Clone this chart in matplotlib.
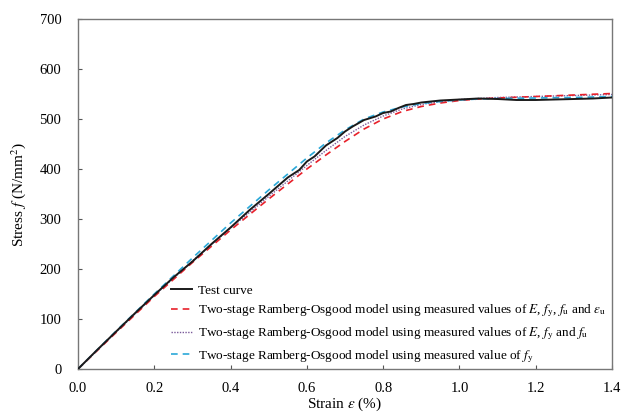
import matplotlib
matplotlib.use("Agg")
import matplotlib.pyplot as plt
from matplotlib.ticker import FormatStrFormatter

plt.rcParams['font.family'] = ['Liberation Serif', 'DejaVu Serif']
plt.rcParams['mathtext.fontset'] = 'stix'

# Test curve (strain %, stress N/mm^2)
test_x = [0.0, 0.05, 0.1, 0.15, 0.2, 0.25, 0.3, 0.35, 0.4, 0.45, 0.5, 0.55, 0.58, 0.6, 0.62, 0.65,
          0.68, 0.7, 0.72, 0.75, 0.78, 0.8, 0.82, 0.84, 0.86, 0.88, 0.9, 0.95, 1.0, 1.05, 1.1,
          1.15, 1.2, 1.25, 1.3, 1.35, 1.4]
test_y = [0, 38, 75, 112, 148, 183, 215, 250, 283, 318, 350, 383, 398, 415, 425, 447,
          462, 475, 485, 498, 505, 512, 515, 522, 528, 530, 533, 537, 539, 541, 540,
          538, 538, 539, 540, 541, 543]

# Two-stage R-O model using E, fy, fu and eps_u (red dashed)
red_x = [0.0, 0.1, 0.2, 0.3, 0.4, 0.5, 0.6, 0.65, 0.7, 0.75, 0.8, 0.85, 0.9, 0.95, 1.0,
         1.05, 1.1, 1.2, 1.3, 1.4]
red_y = [0, 73, 145, 213, 278, 340, 400, 428, 455, 480, 500, 515, 525, 532, 537,
         540, 542, 545, 548, 551]

# Two-stage R-O model using E, fy and fu (purple dotted)
pur_x = [0.0, 0.1, 0.2, 0.3, 0.4, 0.5, 0.6, 0.65, 0.7, 0.75, 0.8, 0.85, 0.9, 0.95, 1.0,
         1.05, 1.1, 1.2, 1.3, 1.4]
pur_y = [0, 74, 147, 216, 282, 345, 407, 437, 465, 488, 506, 520, 529, 535, 539,
         541, 543, 545, 547, 549]

# Two-stage R-O model using fy (cyan dashed)
cyan_x = [0.0, 0.1, 0.2, 0.3, 0.4, 0.5, 0.6, 0.65, 0.7, 0.75, 0.8, 0.85, 0.9, 0.95, 1.0,
          1.05, 1.1, 1.2, 1.3, 1.4]
cyan_y = [0, 76, 150, 222, 292, 358, 422, 452, 478, 500, 514, 524, 531, 535, 538,
          540, 541, 542, 543, 545]

labels = [
    "Test curve",
    r"Two-stage Ramberg-Osgood model using measured values of $E$, $f_\mathrm{y}$, $f_\mathrm{u}$ and $\varepsilon_\mathrm{u}$",
    r"Two-stage Ramberg-Osgood model using measured values of $E$, $f_\mathrm{y}$ and $f_\mathrm{u}$",
    r"Two-stage Ramberg-Osgood model using measured value of $f_\mathrm{y}$",
]

fig = plt.figure(figsize=(6.33, 4.18), dpi=100)
ax = fig.add_axes([78/633, 1 - 369/418, (612-78)/633, (369-19)/418])

ax.plot(test_x, test_y, color='#1a1a1a', lw=1.4, label=labels[0], zorder=5)
ax.plot(red_x, red_y, color='#e8202a', lw=1.2, ls=(0, (4, 3)), label=labels[1], zorder=4)
ax.plot(pur_x, pur_y, color='#7a5a9a', lw=1.0, ls=(0, (1, 1)), label=labels[2], zorder=3)
ax.plot(cyan_x, cyan_y, color='#2aa8d8', lw=1.2, ls=(0, (4, 3)), label=labels[3], zorder=4)

ax.set_xlim(0, 1.4)
ax.set_ylim(0, 700)
ax.set_xticks([0.0, 0.2, 0.4, 0.6, 0.8, 1.0, 1.2, 1.4])
ax.set_yticks(range(0, 701, 100))
ax.xaxis.set_major_formatter(FormatStrFormatter('%.1f'))
ax.tick_params(direction='in', length=3, width=0.8, color='#555555', labelsize=10.5)
ax.tick_params(axis='x', pad=9)
ax.tick_params(axis='y', pad=12)
for s in ax.spines.values():
    s.set_color('#777777')
    s.set_linewidth(1.0)

ax.set_xlabel(r"Strain $\varepsilon$ (%)", fontsize=11, labelpad=1)
ax.set_ylabel(r"Stress $f$ (N/mm$^2$)", fontsize=11, labelpad=8)

leg = ax.legend(loc='lower left', bbox_to_anchor=(0.16, -0.01), frameon=False, fontsize=9.5,
                handlelength=1.6, handletextpad=0.4, labelspacing=0.45, borderaxespad=0.2)

fig.savefig("out.png", dpi=100)
